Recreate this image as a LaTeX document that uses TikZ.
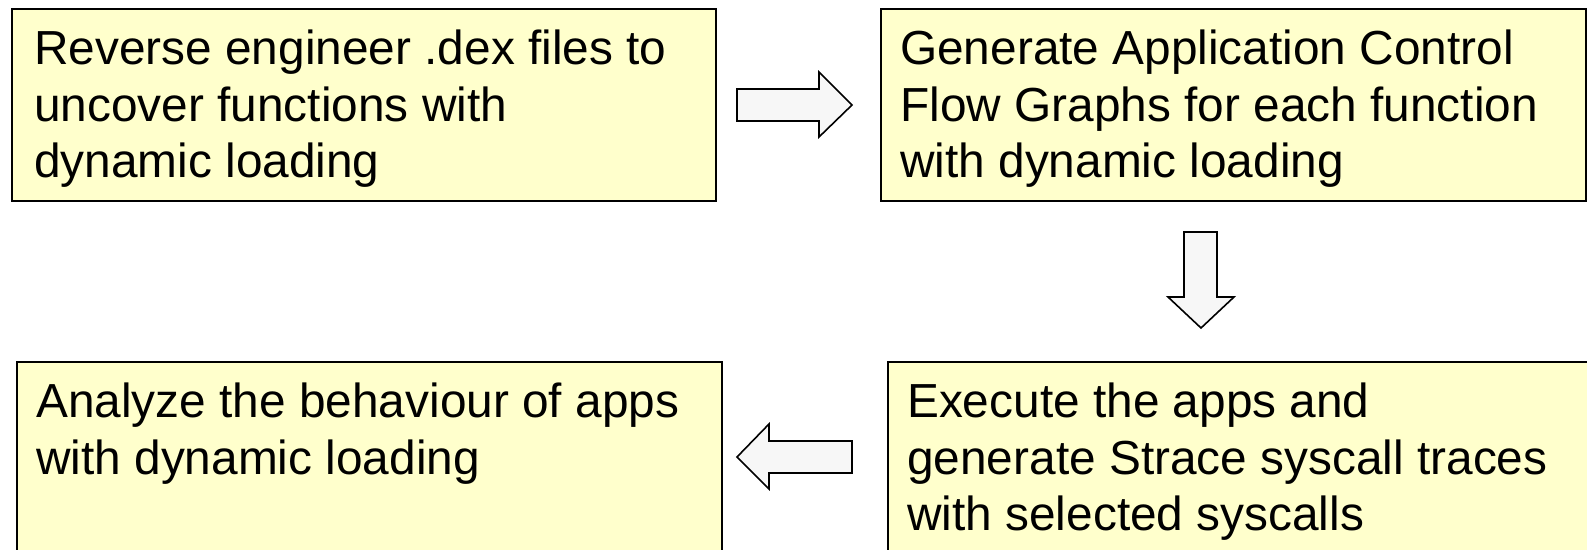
\documentclass[tikz,border=0pt]{standalone}
\usepackage{fontspec}
\setmainfont{Liberation Sans}
\definecolor{boxfill}{RGB}{255,255,204}
\definecolor{arrowfill}{RGB}{247,247,247}
\begin{document}
\begin{tikzpicture}[x=1pt,y=-1pt,
  stepbox/.style={draw=black, line width=2pt, fill=boxfill, rectangle,
    inner sep=0pt, anchor=north west},
  steptext/.style={anchor=north west, inner sep=0pt, align=left,
    font=\fontsize{47.8}{56.2}\selectfont},
  blockarrow/.style={draw=black, line width=1.6pt, fill=arrowfill, line join=miter}]
  \useasboundingbox (0,0) rectangle (1587,549);
  \clip (0,0) rectangle (1587,549);

  % process boxes
  \node[stepbox, minimum width=704, minimum height=192] (b1) at (11,8) {};
  \node[stepbox, minimum width=705, minimum height=192] (b2) at (880,8) {};
  \node[stepbox, minimum width=705, minimum height=220] (b3) at (16,361) {};
  \node[stepbox, minimum width=720, minimum height=220] (b4) at (887,361) {};

  % box texts
  \node[steptext] (t1) at ([shift={(23,22)}]b1.north west)
    {Reverse engineer .dex files to\\uncover functions with\\dynamic loading};
  \node[steptext] (t2) at ([shift={(20,22)}]b2.north west)
    {Generate Application Control\\Flow Graphs for each function\\with dynamic loading};
  \node[steptext] (t3) at ([shift={(20,22)}]b3.north west)
    {Analyze the behaviour of apps\\with dynamic loading};
  \node[steptext] (t4) at ([shift={(20,22)}]b4.north west)
    {Execute the apps and\\generate Strace syscall traces\\with selected syscalls};

  % block arrows between the steps
  \draw[blockarrow] (737,89) -- (819,89) -- (819,72) -- (852,105)
    -- (819,137) -- (819,121) -- (737,121) -- cycle;
  \draw[blockarrow] (1184,232) -- (1217,232) -- (1217,297) -- (1234,297)
    -- (1201,328) -- (1168,297) -- (1184,297) -- cycle;
  \draw[blockarrow] (852,441) -- (769,441) -- (769,424) -- (737,457)
    -- (769,489) -- (769,473) -- (852,473) -- cycle;
\end{tikzpicture}
\end{document}
